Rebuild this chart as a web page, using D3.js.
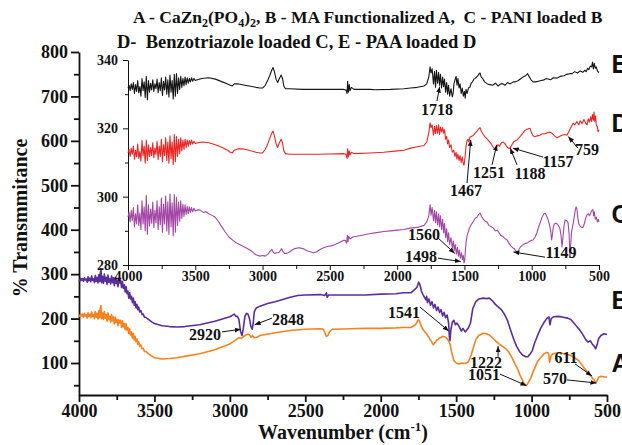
<!DOCTYPE html>
<html>
<head>
<meta charset="utf-8">
<script src="https://cdn.jsdelivr.net/npm/d3@7"></script>
<style>
body { margin: 0; background: #fff; }
svg text { font-family: "Liberation Serif", "Times New Roman", serif; font-weight: bold; fill: #111; }
</style>
</head>
<body>
<div id="chart"></div>
<script>
// main panel: A and B
const seriesA = [[4000,208],[3994,205],[3988,211],[3982,206],[3976,210],[3970,203],[3964,212],[3958,206],[3952,209],[3946,201],[3940,213],[3934,204],[3928,210],[3922,202],[3916,215],[3910,205],[3904,209],[3898,200],[3892,216],[3886,203],[3880,212],[3874,199],[3868,218],[3862,202],[3858,224],[3854,229],[3850,200],[3844,213],[3838,198],[3832,216],[3826,201],[3820,209],[3814,194],[3808,213],[3802,198],[3796,205],[3790,192],[3784,209],[3778,195],[3772,204],[3766,188],[3760,203],[3754,191],[3748,198],[3742,184],[3736,197],[3730,190],[3724,196],[3718,180],[3712,195],[3706,181],[3700,189],[3694,175],[3688,188],[3682,174],[3676,180],[3670,166],[3664,177],[3658,163],[3652,170],[3646,156],[3640,167],[3634,152],[3628,160],[3622,148],[3616,154],[3610,142],[3604,148],[3598,138],[3590,141],[3582,132],[3574,133],[3566,126],[3558,126],[3540,121],[3520,116],[3500,112],[3450,109],[3400,110],[3350,112],[3300,115],[3200,121],[3100,130],[3000,143],[2960,152],[2940,157],[2925,155],[2915,158],[2895,163],[2880,165],[2870,163],[2860,158],[2850,162],[2840,157],[2820,158],[2800,162],[2700,168],[2600,173],[2500,176],[2400,177],[2380,176],[2370,168],[2360,160],[2350,162],[2340,170],[2320,176],[2200,177],[2100,178],[2000,178],[1900,179],[1850,180],[1800,180],[1770,186],[1750,198],[1740,192],[1730,182],[1720,176],[1712,172],[1704,169],[1696,166],[1688,161],[1680,158],[1672,152],[1664,149],[1656,143],[1650,141],[1644,145],[1636,147],[1628,152],[1620,153],[1610,157],[1600,157],[1590,160],[1580,159],[1570,158],[1560,155],[1550,150],[1540,142],[1530,125],[1515,105],[1500,100],[1480,98],[1460,100],[1440,99],[1420,102],[1400,118],[1385,136],[1370,152],[1350,162],[1320,167],[1300,166],[1280,163],[1260,157],[1240,150],[1225,146],[1210,141],[1190,137],[1170,132],[1150,124],[1130,112],[1110,98],[1090,85],[1077,73],[1055,57],[1040,50],[1030,51],[1020,57],[1005,66],[990,80],[975,92],[960,104],[940,112],[920,120],[900,124],[888,122],[880,102],[872,115],[860,121],[820,123],[780,121],[750,118],[720,113],[690,106],[670,98],[650,88],[630,80],[615,74],[605,70],[595,65],[585,62],[575,55],[565,60],[555,68],[540,70],[520,69],[500,68]];

const seriesB = [[4000,288],[3994,285],[3988,291],[3982,286],[3976,290],[3970,284],[3964,292],[3958,287],[3952,289],[3946,282],[3940,294],[3934,285],[3928,291],[3922,283],[3916,296],[3910,286],[3904,290],[3898,281],[3892,297],[3886,284],[3880,293],[3874,280],[3868,299],[3862,283],[3858,305],[3854,309],[3850,281],[3844,295],[3838,279],[3832,300],[3826,284],[3820,293],[3814,277],[3808,298],[3802,282],[3796,290],[3790,278],[3784,296],[3778,281],[3772,292],[3766,274],[3760,293],[3754,279],[3748,287],[3742,272],[3736,289],[3730,280],[3724,286],[3718,270],[3712,284],[3706,268],[3700,276],[3694,260],[3688,272],[3682,256],[3676,262],[3670,246],[3664,258],[3658,244],[3652,250],[3646,236],[3640,246],[3634,230],[3628,238],[3622,224],[3616,232],[3610,220],[3604,226],[3598,215],[3590,218],[3582,209],[3574,210],[3566,203],[3558,203],[3540,198],[3516,192],[3500,189],[3450,184],[3400,182],[3350,181],[3300,182],[3200,186],[3100,194],[3000,204],[2970,210],[2960,205],[2950,205],[2940,198],[2930,172],[2920,162],[2912,175],[2900,205],[2890,212],[2880,210],[2870,200],[2860,182],[2852,176],[2845,190],[2838,215],[2825,224],[2800,228],[2750,234],[2700,238],[2650,243],[2600,248],[2550,252],[2500,253],[2400,254],[2370,252],[2360,258],[2355,248],[2345,253],[2300,253],[2200,253],[2100,253],[2000,255],[1900,256],[1850,258],[1800,258],[1780,264],[1760,270],[1748,282],[1740,276],[1730,262],[1720,254],[1710,248],[1700,242],[1695,250],[1690,236],[1680,244],[1670,230],[1660,238],[1650,224],[1640,232],[1630,218],[1620,226],[1610,214],[1600,220],[1590,206],[1580,214],[1570,202],[1560,208],[1550,190],[1545,160],[1541,150],[1535,175],[1525,192],[1515,196],[1505,186],[1495,190],[1480,182],[1465,172],[1455,178],[1440,170],[1420,178],[1405,190],[1390,222],[1370,238],[1350,244],[1320,246],[1300,245],[1280,246],[1260,240],[1240,232],[1220,226],[1200,220],[1180,210],[1160,196],[1140,175],[1120,155],[1100,138],[1080,126],[1060,118],[1040,114],[1025,114],[1010,120],[995,128],[980,145],[960,162],[940,178],[920,190],[900,200],[885,204],[878,186],[870,200],[855,204],[820,205],[790,203],[760,201],[740,198],[720,190],[700,182],[680,174],[660,164],[640,152],[625,147],[610,150],[598,143],[585,138],[575,132],[565,142],[555,155],[540,162],[520,166],[500,164]];

// inset: C, D, E
const seriesC = [[4000,294.0],[3992,295.4],[3984,292.6],[3976,296.0],[3968,293.0],[3960,296.8],[3952,291.2],[3944,295.0],[3936,292.0],[3928,297.6],[3920,291.6],[3912,295.2],[3904,290.4],[3896,298.8],[3888,292.0],[3880,297.0],[3872,290.0],[3864,300.4],[3856,289.0],[3848,297.6],[3840,291.4],[3832,296.4],[3824,292.2],[3816,298.4],[3808,291.0],[3800,296.0],[3792,292.4],[3784,298.8],[3776,290.4],[3768,297.0],[3760,291.8],[3752,299.6],[3744,289.6],[3736,297.8],[3728,292.0],[3720,300.2],[3712,290.0],[3704,298.4],[3696,289.0],[3688,300.8],[3680,291.2],[3672,298.2],[3664,288.6],[3656,300.6],[3648,289.6],[3640,299.8],[3632,291.6],[3624,298.4],[3616,292.8],[3608,298.8],[3600,293.6],[3592,297.8],[3584,294.2],[3576,297.6],[3568,294.8],[3560,297.2],[3552,295.0],[3544,297.0],[3536,295.4],[3528,296.8],[3520,295.6],[3510,296.6],[3500,295.8],[3480,296.2],[3460,296.0],[3440,295.4],[3420,295.6],[3400,295.0],[3380,294.6],[3360,294.2],[3340,293.4],[3320,292.2],[3300,291.0],[3280,289.8],[3250,288.2],[3220,287.2],[3200,286.6],[3160,285.8],[3120,285.0],[3080,284.0],[3050,283.0],[3020,282.6],[3000,282.8],[2980,282.6],[2960,283.2],[2945,284.0],[2932,284.6],[2922,283.8],[2910,283.4],[2895,283.6],[2880,283.6],[2868,284.2],[2858,284.8],[2850,284.0],[2838,283.4],[2820,283.4],[2800,283.8],[2780,284.4],[2760,284.8],[2740,285.0],[2720,285.0],[2700,284.8],[2680,284.4],[2660,284.0],[2640,283.8],[2620,283.6],[2600,283.8],[2580,284.4],[2550,285.0],[2520,285.4],[2490,285.6],[2460,286.0],[2430,286.6],[2400,287.2],[2385,287.2],[2375,286.4],[2370,288.8],[2365,286.8],[2360,288.4],[2350,287.6],[2330,288.2],[2300,288.4],[2250,288.8],[2200,289.2],[2165,289.4],[2100,289.8],[2050,290.0],[2000,290.2],[1950,290.4],[1904,290.8],[1850,291.0],[1800,291.6],[1780,292.6],[1765,294.4],[1755,297.6],[1748,294.6],[1740,296.8],[1730,293.0],[1722,296.0],[1715,292.4],[1708,295.6],[1700,291.8],[1692,295.0],[1685,291.2],[1678,294.4],[1670,290.4],[1662,293.4],[1655,289.4],[1648,292.2],[1640,288.0],[1632,290.6],[1625,286.8],[1618,289.4],[1610,286.0],[1600,288.0],[1590,285.0],[1582,287.0],[1575,284.2],[1568,286.0],[1560,283.2],[1552,285.2],[1545,282.6],[1538,284.4],[1530,282.0],[1522,283.6],[1515,281.6],[1508,282.8],[1503,280.6],[1498,281.2],[1494,283.6],[1488,286.6],[1480,288.6],[1474,289.4],[1465,290.6],[1450,291.8],[1437,292.6],[1420,293.6],[1407,294.0],[1395,294.8],[1384,295.2],[1375,294.4],[1360,293.4],[1345,292.8],[1332,292.6],[1318,291.6],[1300,291.2],[1285,290.8],[1270,290.0],[1258,290.2],[1245,289.6],[1230,288.6],[1215,288.4],[1200,287.8],[1183,287.3],[1170,286.4],[1155,285.6],[1140,285.0],[1130,284.8],[1120,284.2],[1109,283.8],[1098,284.4],[1085,285.2],[1070,285.8],[1050,286.2],[1035,286.4],[1020,286.8],[1005,287.2],[990,287.3],[975,288.2],[960,289.6],[948,291.2],[938,292.3],[925,293.8],[912,294.8],[901,295.2],[890,294.4],[878,293.2],[868,291.8],[858,289.6],[852,287.3],[846,289.0],[840,291.0],[832,292.0],[820,292.2],[810,292.0],[800,291.4],[790,290.6],[782,288.6],[775,285.3],[768,288.0],[760,291.4],[752,293.2],[740,293.0],[730,292.4],[722,289.0],[716,282.3],[710,286.0],[704,289.8],[697,291.1],[690,292.6],[682,294.6],[676,296.2],[670,297.0],[664,296.4],[658,294.0],[650,292.0],[640,291.4],[630,291.0],[619,291.0],[610,292.0],[600,293.6],[590,294.6],[580,295.0],[570,294.4],[560,295.4],[552,296.0],[545,296.2],[540,294.4],[535,295.6],[528,293.4],[520,294.0],[512,292.6],[505,293.4],[500,292.6]];

const seriesD = [[4000,312.8],[3992,313.8],[3984,311.8],[3976,314.2],[3968,312.4],[3960,314.8],[3952,311.0],[3944,313.6],[3936,311.6],[3928,315.4],[3920,311.2],[3912,313.2],[3904,310.4],[3896,316.4],[3888,312.0],[3880,314.8],[3872,309.8],[3864,316.6],[3856,310.6],[3848,315.2],[3840,311.8],[3832,314.4],[3824,312.0],[3816,315.8],[3808,311.4],[3800,314.2],[3792,312.4],[3784,316.2],[3776,310.8],[3768,314.8],[3760,311.8],[3752,316.8],[3744,310.2],[3736,315.2],[3728,312.0],[3720,317.2],[3712,310.6],[3704,316.0],[3696,309.8],[3688,317.8],[3680,311.2],[3672,316.0],[3664,309.4],[3656,318.2],[3648,310.2],[3640,317.6],[3632,311.8],[3624,316.8],[3616,312.6],[3608,317.2],[3600,313.4],[3592,316.6],[3584,313.8],[3576,316.8],[3568,314.4],[3560,316.6],[3552,314.8],[3544,316.4],[3536,315.2],[3528,316.6],[3520,315.4],[3510,316.2],[3500,315.6],[3480,315.8],[3450,316.0],[3400,315.8],[3350,315.2],[3300,314.4],[3260,313.6],[3240,313.0],[3225,312.8],[3210,313.6],[3180,314.0],[3150,314.0],[3100,313.6],[3050,313.0],[3020,312.8],[3000,312.8],[2980,313.8],[2960,315.6],[2945,317.2],[2932,318.6],[2922,319.2],[2912,317.8],[2900,315.6],[2888,314.4],[2875,315.8],[2862,316.8],[2852,315.8],[2842,313.4],[2830,312.6],[2800,312.4],[2700,312.4],[2600,312.4],[2500,312.5],[2400,312.6],[2380,312.4],[2372,311.2],[2368,314.0],[2362,311.6],[2356,313.4],[2350,312.2],[2340,313.0],[2320,312.6],[2200,312.8],[2100,313.0],[2000,313.4],[1950,313.6],[1900,314.2],[1850,314.6],[1800,315.0],[1780,316.0],[1765,318.6],[1755,321.6],[1748,320.2],[1740,321.0],[1730,318.0],[1722,320.6],[1715,318.4],[1708,320.8],[1700,318.6],[1692,321.0],[1685,318.2],[1678,320.4],[1670,319.0],[1662,320.2],[1655,318.6],[1648,319.6],[1640,316.8],[1632,317.6],[1625,315.4],[1618,316.6],[1610,314.4],[1600,315.2],[1590,313.0],[1580,313.6],[1570,311.8],[1562,313.0],[1555,311.0],[1548,312.4],[1540,310.6],[1532,312.0],[1524,310.0],[1516,311.6],[1508,309.6],[1503,309.2],[1495,311.6],[1488,314.8],[1480,316.4],[1474,316.8],[1467,316.0],[1460,317.4],[1450,317.6],[1437,317.8],[1420,318.6],[1405,319.2],[1395,319.8],[1384,320.2],[1375,319.2],[1360,318.2],[1345,317.4],[1325,316.6],[1300,315.4],[1285,314.4],[1273,313.8],[1262,314.4],[1251,315.2],[1240,314.8],[1225,315.8],[1213,316.0],[1200,315.6],[1188,314.8],[1175,314.2],[1162,314.2],[1150,315.0],[1135,316.0],[1120,316.4],[1109,316.6],[1090,317.4],[1070,318.4],[1050,319.4],[1030,319.8],[1013,320.0],[1000,318.6],[990,317.8],[976,317.5],[960,317.8],[940,318.0],[920,318.4],[900,318.4],[880,318.8],[864,318.9],[845,318.4],[830,317.8],[812,317.2],[795,317.6],[775,318.0],[755,318.2],[738,318.0],[720,319.4],[705,320.6],[692,321.5],[680,321.0],[665,322.0],[650,321.0],[640,322.2],[625,321.4],[612,322.6],[600,321.6],[589,321.0],[580,322.8],[570,321.8],[562,323.4],[555,322.0],[548,324.0],[542,322.4],[537,324.8],[532,322.0],[526,323.6],[520,321.0],[512,320.4],[507,319.0],[500,319.6]];

const seriesE = [[4000,331.8],[3992,332.6],[3984,331.0],[3976,333.0],[3968,331.4],[3960,333.4],[3952,330.2],[3944,332.8],[3936,330.8],[3928,334.0],[3920,330.4],[3912,332.2],[3904,329.4],[3896,334.6],[3888,331.0],[3880,333.6],[3872,329.0],[3864,335.2],[3856,328.4],[3848,334.0],[3840,330.6],[3832,333.2],[3824,331.2],[3816,334.2],[3808,330.8],[3800,333.0],[3792,331.6],[3784,334.4],[3776,330.4],[3768,333.4],[3760,331.0],[3752,334.8],[3744,329.6],[3736,333.8],[3728,331.2],[3720,335.0],[3712,330.0],[3704,334.2],[3696,329.2],[3688,335.6],[3680,330.6],[3672,334.0],[3664,328.6],[3656,335.8],[3648,329.4],[3640,336.0],[3632,330.2],[3624,334.8],[3616,331.4],[3608,335.2],[3600,332.0],[3592,334.6],[3584,332.4],[3576,335.0],[3568,332.8],[3560,334.8],[3552,333.2],[3544,334.6],[3536,333.6],[3528,334.8],[3520,333.8],[3510,334.6],[3500,334.0],[3480,334.3],[3450,334.6],[3400,334.8],[3350,334.4],[3300,333.6],[3260,333.0],[3240,332.6],[3225,332.4],[3210,333.0],[3180,333.0],[3100,332.4],[3050,332.0],[3020,331.8],[3000,331.8],[2980,332.6],[2960,334.2],[2945,335.6],[2932,337.0],[2922,337.8],[2912,336.6],[2900,334.4],[2888,333.4],[2875,334.6],[2862,335.6],[2852,334.6],[2842,332.4],[2830,331.6],[2800,331.6],[2700,331.4],[2600,331.4],[2500,331.4],[2400,331.4],[2380,331.2],[2372,330.2],[2368,333.8],[2362,330.6],[2356,332.8],[2350,331.0],[2340,332.0],[2320,331.4],[2200,331.4],[2165,331.3],[2050,331.4],[1950,331.6],[1900,331.8],[1850,332.0],[1800,332.4],[1780,333.0],[1765,335.0],[1755,338.0],[1748,336.2],[1740,337.4],[1730,333.0],[1722,336.6],[1715,332.0],[1708,337.0],[1700,333.2],[1692,336.4],[1685,332.6],[1678,335.8],[1670,331.8],[1662,335.0],[1655,332.2],[1648,334.4],[1640,330.6],[1632,333.4],[1625,330.0],[1618,332.6],[1610,329.4],[1600,331.6],[1590,329.2],[1584,330.2],[1578,333.0],[1570,334.2],[1562,335.2],[1555,332.6],[1548,334.6],[1540,331.8],[1532,333.0],[1524,330.2],[1516,331.8],[1508,329.4],[1500,330.8],[1494,328.8],[1488,331.4],[1480,330.2],[1470,331.8],[1460,332.0],[1450,333.2],[1440,333.6],[1430,334.4],[1420,334.6],[1410,335.0],[1400,335.4],[1390,336.0],[1384,336.2],[1375,335.0],[1365,334.6],[1350,333.6],[1330,333.0],[1310,332.8],[1290,332.6],[1270,333.2],[1250,332.4],[1230,333.0],[1213,333.0],[1200,332.6],[1180,333.4],[1160,333.0],[1138,333.6],[1120,333.6],[1100,334.0],[1080,334.6],[1065,335.0],[1045,335.4],[1030,336.0],[1020,335.2],[1005,334.2],[990,333.6],[970,333.6],[950,333.8],[930,334.0],[916,334.1],[890,334.6],[860,334.2],[840,334.8],[812,334.7],[790,335.2],[760,335.4],[740,335.8],[716,336.0],[700,336.0],[680,336.6],[660,336.2],[640,336.8],[620,336.4],[605,337.0],[595,336.6],[585,337.6],[575,337.2],[565,338.2],[555,338.0],[548,339.4],[542,337.4],[535,339.0],[528,337.6],[520,338.0],[512,336.8],[505,336.4],[500,336.6]];

// ticks
const mainXTicks = [4000, 3500, 3000, 2500, 2000, 1500, 1000, 500];
const mainXMinor = [3750, 3250, 2750, 2250, 1750, 1250, 750];
const mainYTicks = [100, 200, 300, 400, 500, 600, 700, 800];
const mainYMinor = [50, 150, 250, 350, 450, 550, 650, 750];
const insetXTicks = [4000, 3500, 3000, 2500, 2000, 1500, 1000, 500];
const insetXMinor = [3750, 3250, 2750, 2250, 1750, 1250, 750];
const insetYTicks = [280, 300, 320, 340];
const insetYMinor = [290, 310, 330];

// peak labels: [text, labelX, labelY, arrowFromX, arrowFromY, arrowToX, arrowToY]
const mainPeaks = [
  ["2920", 3165, 152, 3052, 170, 2928, 176],
  ["2848", 2615, 186, 2721, 201, 2836, 186],
  ["1541", 1846, 201, 1740, 226, 1549, 172],
  ["1222", 1302, 89, 1222, 114, 1222, 138],
  ["1051", 1315, 61, 1209, 75, 1034, 49],
  ["611", 772, 100, 712, 98, 600, 71],
  ["570", 845, 53, 765, 62, 570, 55]
];
const insetPeaks = [
  ["1718", 1704, 323.9, 1704, 328.0, 1684, 332.2],
  ["1467", 1488, 300.2, 1481, 304.0, 1453, 316.6],
  ["1251", 1317, 305.5, 1295, 309.3, 1260, 315.2],
  ["1188", 1013, 305.2, 1109, 309.3, 1160, 314.2],
  ["1157", 805, 308.7, 916, 311.6, 1140, 314.2],
  ["759", 589, 312.2, 656, 314.2, 728, 317.6],
  ["1560", 1800, 287.3, 1696, 287.9, 1572, 283.4],
  ["1498", 1823, 280.9, 1696, 282.0, 1527, 281.0],
  ["1149", 782, 282.0, 901, 282.3, 1136, 283.8]
];

const mainLetters = [["B", 221.6], ["A", 80]];
const insetLetters = [["E", 336.2], ["D", 318.9], ["C", 292.3]];

const W = 622, H = 445;
const svg = d3.select("#chart").append("svg").attr("width", W).attr("height", H);

svg.append("defs").append("marker")
  .attr("id", "arr").attr("viewBox", "0 0 10 10").attr("refX", 10).attr("refY", 5)
  .attr("markerWidth", 6).attr("markerHeight", 6).attr("markerUnits", "userSpaceOnUse")
  .attr("orient", "auto")
  .append("path").attr("d", "M0,1 L10,5 L0,9 Z").attr("fill", "#111");

const x = d3.scaleLinear().domain([4000, 500]).range([79, 607]);
const y = d3.scaleLinear().domain([28, 800]).range([395, 52]);
const xi = d3.scaleLinear().domain([4000, 500]).range([128, 599]);
const yi = d3.scaleLinear().domain([280, 340]).range([265, 60]);
const fmt = d3.format("d");

function styleAxis(g, w, fs) {
  g.selectAll("path, line").attr("stroke", "#111").attr("stroke-width", w);
  g.selectAll("text").style("font-size", fs + "px").attr("fill", "#111")
    .style("font-family", '"Liberation Serif", serif').style("font-weight", "bold");
}

// main axes
let g = svg.append("g").attr("transform", "translate(0,395)")
  .call(d3.axisBottom(x).tickValues(mainXTicks).tickFormat(fmt).tickSize(7).tickSizeOuter(0).tickPadding(2));
styleAxis(g, 1.8, 18);
g = svg.append("g").attr("transform", "translate(0,395)")
  .call(d3.axisBottom(x).tickValues(mainXMinor).tickSize(5).tickFormat(""));
g.select(".domain").remove(); styleAxis(g, 1.8, 18);

g = svg.append("g").attr("transform", "translate(79,0)")
  .call(d3.axisLeft(y).tickValues(mainYTicks).tickFormat(fmt).tickSize(8).tickSizeOuter(0).tickPadding(3));
styleAxis(g, 1.8, 18);
g = svg.append("g").attr("transform", "translate(79,0)")
  .call(d3.axisLeft(y).tickValues(mainYMinor).tickSize(5).tickFormat(""));
g.select(".domain").remove(); styleAxis(g, 1.8, 18);

const lineMain = d3.line().x(d => x(d[0])).y(d => y(d[1]));
const lineIn = d3.line().x(d => xi(d[0])).y(d => yi(d[1]));

svg.append("path").attr("d", lineMain(seriesB)).attr("fill", "none")
  .attr("stroke", "#5b2c9c").attr("stroke-width", 1.6).attr("stroke-linejoin", "round");
svg.append("path").attr("d", lineMain(seriesA)).attr("fill", "none")
  .attr("stroke", "#f7821f").attr("stroke-width", 1.6).attr("stroke-linejoin", "round");

// inset axes
g = svg.append("g").attr("transform", "translate(0,265)")
  .call(d3.axisBottom(xi).tickValues(insetXTicks).tickFormat(fmt).tickSize(5).tickSizeOuter(0).tickPadding(1));
styleAxis(g, 1, 14);
g = svg.append("g").attr("transform", "translate(0,265)")
  .call(d3.axisBottom(xi).tickValues(insetXMinor).tickSize(4).tickFormat(""));
g.select(".domain").remove(); styleAxis(g, 1, 14);
g = svg.append("g").attr("transform", "translate(128,0)")
  .call(d3.axisLeft(yi).tickValues(insetYTicks).tickFormat(fmt).tickSize(5).tickSizeOuter(0).tickPadding(5));
styleAxis(g, 1, 14);
g = svg.append("g").attr("transform", "translate(128,0)")
  .call(d3.axisLeft(yi).tickValues(insetYMinor).tickSize(3).tickFormat(""));
g.select(".domain").remove(); styleAxis(g, 1, 14);

svg.append("path").attr("d", lineIn(seriesE)).attr("fill", "none")
  .attr("stroke", "#151515").attr("stroke-width", 1.1).attr("stroke-linejoin", "round");
svg.append("path").attr("d", lineIn(seriesD)).attr("fill", "none")
  .attr("stroke", "#ee2424").attr("stroke-width", 1.1).attr("stroke-linejoin", "round");
svg.append("path").attr("d", lineIn(seriesC)).attr("fill", "none")
  .attr("stroke", "#a347a6").attr("stroke-width", 1.1).attr("stroke-linejoin", "round");

// peak annotations
function drawPeaks(list, sx, sy) {
  list.forEach(p => {
    svg.append("line")
      .attr("x1", sx(p[3])).attr("y1", sy(p[4]))
      .attr("x2", sx(p[5])).attr("y2", sy(p[6]))
      .attr("stroke", "#111").attr("stroke-width", 1).attr("marker-end", "url(#arr)");
    svg.append("text").attr("x", sx(p[1])).attr("y", sy(p[2]))
      .attr("text-anchor", "middle").style("font-size", "16px").text(p[0]);
  });
}
drawPeaks(mainPeaks, x, y);
drawPeaks(insetPeaks, xi, yi);

// curve letters (clipped by the right edge, as in the original)
mainLetters.forEach(l => {
  svg.append("text").attr("x", x(470)).attr("y", y(l[1])).text(l[0])
    .style("font-family", '"Liberation Sans", Arial, sans-serif').style("font-size", "25px");
});
insetLetters.forEach(l => {
  svg.append("text").attr("x", x(470)).attr("y", yi(l[1])).text(l[0])
    .style("font-family", '"Liberation Sans", Arial, sans-serif').style("font-size", "25px");
});

// axis titles
svg.append("text").attr("transform", "translate(27,218) rotate(-90)")
  .attr("text-anchor", "middle").style("font-size", "20px").text("% Transmmitance");
const xt = svg.append("text").attr("x", 343).attr("y", 439)
  .attr("text-anchor", "middle").style("font-size", "20px");
xt.append("tspan").text("Wavenumber (cm");
xt.append("tspan").attr("dy", -8).style("font-size", "13px").text("-1");
xt.append("tspan").attr("dy", 8).text(")");

// title
const t1 = svg.append("text").attr("x", 133).attr("y", 23)
  .style("font-size", "17.5px").style("white-space", "pre");
t1.append("tspan").text("A - CaZn");
t1.append("tspan").attr("dy", 4).style("font-size", "12px").text("2");
t1.append("tspan").attr("dy", -4).text("(PO");
t1.append("tspan").attr("dy", 4).style("font-size", "12px").text("4");
t1.append("tspan").attr("dy", -4).text(")");
t1.append("tspan").attr("dy", 4).style("font-size", "12px").text("2");
t1.append("tspan").attr("dy", -4).text(", B - MA Functionalized A,  C - PANI loaded B");
svg.append("text").attr("x", 117).attr("y", 48)
  .style("font-size", "18.5px").style("white-space", "pre")
  .text("D-  Benzotriazole loaded C, E - PAA loaded D");
</script>
</body>
</html>
